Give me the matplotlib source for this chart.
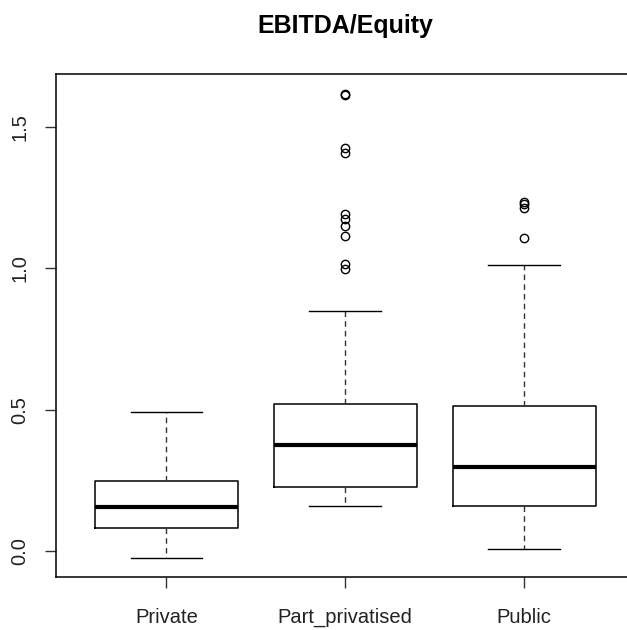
import matplotlib
matplotlib.use("Agg")
import matplotlib.pyplot as plt

# Box statistics for EBITDA/Equity by ownership group
groups = ["Private", "Part_privatised", "Public"]
whisker_low = [-0.025, 0.159, 0.008]
q1 = [0.082, 0.227, 0.159]
median = [0.154, 0.375, 0.297]
q3 = [0.246, 0.521, 0.513]
whisker_high = [0.490, 0.848, 1.013]
outliers = [
    [],
    [1.617, 1.612, 1.424, 1.407, 1.191, 1.173, 1.151, 1.115, 1.015, 0.998],
    [1.235, 1.226, 1.213, 1.107],
]

plt.rcParams["font.family"] = ["Liberation Sans", "DejaVu Sans"]

W, H = 627, 630
fig = plt.figure(figsize=(W / 100, H / 100), dpi=100)
left, right, top, bottom = 55.5, 635.0, 74.0, 577.0
ax = fig.add_axes([left / W, 1 - bottom / H, (right - left) / W, (bottom - top) / H])

stats = []
for i, g in enumerate(groups):
    stats.append(dict(label=g, whislo=whisker_low[i], q1=q1[i], med=median[i],
                      q3=q3[i], whishi=whisker_high[i], fliers=outliers[i]))

ax.bxp(stats, positions=[1, 2, 3], widths=0.8, patch_artist=False,
       boxprops=dict(color="black", linewidth=1.1),
       medianprops=dict(color="black", linewidth=3.0, solid_capstyle="butt"),
       whiskerprops=dict(color="#333333", linewidth=1.0, linestyle=(0, (4, 3))),
       capprops=dict(color="black", linewidth=1.0),
       capwidths=0.4,
       flierprops=dict(marker="o", markersize=6, markerfacecolor="none",
                       markeredgecolor="black", markeredgewidth=1.0, linestyle="none"))

ax.set_xlim(0.38, 3.62)
ax.set_ylim(-0.092, 1.687)
ax.set_yticks([0.0, 0.5, 1.0, 1.5])
ax.set_yticklabels(["0.0", "0.5", "1.0", "1.5"], rotation=90, va="center")
ax.set_xticks([1, 2, 3])
ax.set_xticklabels(groups)
ax.tick_params(axis="both", labelsize=14.5, length=8, width=1, color="#333333",
               colors="#222222")
ax.tick_params(axis="x", pad=14)
ax.tick_params(axis="y", pad=11)
for s in ax.spines.values():
    s.set_linewidth(1.1)
    s.set_color("black")

fig.text((left + right) / 2 / W, 1 - 26 / H, "EBITDA/Equity", ha="center",
         va="center", fontsize=18, fontweight="bold")

fig.savefig("out.png", dpi=100)
